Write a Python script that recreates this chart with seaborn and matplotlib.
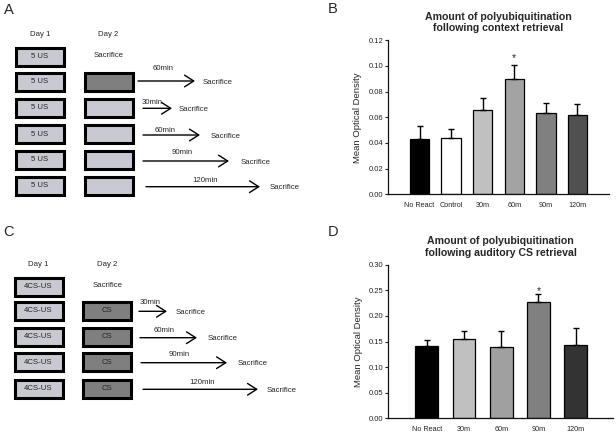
import numpy as np
import pandas as pd
import matplotlib
matplotlib.use("Agg")
import matplotlib.pyplot as plt
from matplotlib.patches import Rectangle
import seaborn as sns

# ------------------------------------------------------------------ data
b_categories = ["No React", "Control", "30m", "60m", "90m", "120m"]
b_means = [0.043, 0.044, 0.066, 0.090, 0.063, 0.062]
b_errors = [0.010, 0.007, 0.009, 0.011, 0.008, 0.008]
b_yticks = [0.00, 0.02, 0.04, 0.06, 0.08, 0.10, 0.12]
b_significant = ["60m"]
b_title = "Amount of polyubiquitination\nfollowing context retrieval"

d_categories = ["No React", "30m", "60m", "90m", "120m"]
d_means = [0.141, 0.155, 0.140, 0.228, 0.143]
d_errors = [0.012, 0.015, 0.031, 0.014, 0.034]
d_yticks = [0.00, 0.05, 0.10, 0.15, 0.20, 0.25, 0.30]
d_significant = ["90m"]
d_title = "Amount of polyubiquitination\nfollowing auditory CS retrieval"

y_label = "Mean Optical Density"

# schematic content
a_day1 = ["5 US", "5 US", "5 US", "5 US", "5 US", "5 US"]
a_day2 = ["sacrifice", "dark", "light", "light", "light", "light"]
a_intervals = [None, "60min", "30min", "60min", "90min", "120min"]

c_day1 = ["4CS-US", "4CS-US", "4CS-US", "4CS-US", "4CS-US"]
c_day2 = ["sacrifice", "CS", "CS", "CS", "CS"]
c_intervals = [None, "30min", "60min", "90min", "120min"]

day_headers = ["Day 1", "Day 2"]
end_label = "Sacrifice"

# ------------------------------------------------------------------ style
sns.set_style("ticks")
plt.rcParams["font.family"] = ["Liberation Sans", "DejaVu Sans"]

b_palette = ["#000000", "#ffffff", "#c0c0c0", "#a3a3a3", "#808080", "#505050"]
d_palette = ["#000000", "#c0c0c0", "#a0a0a0", "#808080", "#333333"]
LIGHT = "#c9cad1"
DARK = "#7f7f7f"

W, H = 616, 434
fig = plt.figure(figsize=(W / 100, H / 100), dpi=100)

# overlay axes in pixel coordinates for the schematic panels and letters
ov = fig.add_axes([0, 0, 1, 1])
ov.set_xlim(0, W)
ov.set_ylim(H, 0)
ov.axis("off")
ov.patch.set_alpha(0)

TXT = 5.6
BOX_W, BOX_H = 48, 18


def box(cx, cy, fill, label=None):
    ov.add_patch(Rectangle((cx - BOX_W / 2, cy - BOX_H / 2), BOX_W, BOX_H,
                           facecolor=fill, edgecolor="black", linewidth=2.2))
    if label:
        ov.text(cx, cy, label, ha="center", va="center", fontsize=TXT)


def arrow(x0, x1, y):
    ov.annotate("", xy=(x1, y), xytext=(x0, y),
                arrowprops=dict(arrowstyle="->,head_length=0.55,head_width=0.35",
                                lw=1.0, color="black", shrinkA=0, shrinkB=0,
                                mutation_scale=12))


def schematic(day1, day2, intervals, layout):
    hx1, hx2, hy = layout["headers"]
    ov.text(hx1, hy, day_headers[0], ha="center", va="center", fontsize=TXT)
    ov.text(hx2, hy, day_headers[1], ha="center", va="center", fontsize=TXT)
    for i, (l1, l2, iv) in enumerate(zip(day1, day2, intervals)):
        y = layout["rows"][i]
        box(layout["x1"], y, LIGHT, l1)
        if l2 == "sacrifice":
            ov.text(layout["x2"], y - 1, end_label, ha="center", va="center", fontsize=TXT)
        elif l2 == "dark":
            box(layout["x2"], y, DARK)
        elif l2 == "light":
            box(layout["x2"], y, LIGHT)
        else:
            box(layout["x2"], y, DARK, l2)
        if iv is not None:
            ax0, ax1, ay = layout["arrows"][i]
            arrow(ax0, ax1, ay)
            lx, ly = layout["labels"][i]
            ov.text(lx, ly, iv, ha="center", va="center", fontsize=TXT)
            ov.text(ax1 + layout["gap"][i], ay + 1, end_label, ha="left",
                    va="center", fontsize=TXT)


a_layout = dict(
    headers=(40, 108, 34),
    rows=[56.7, 81.7, 107.7, 134.3, 159.5, 185.7],
    x1=39.8, x2=108.7,
    arrows=[None, (138, 195, 81), (143, 172, 108.3), (143, 200, 135),
            (143, 229, 161), (146, 260, 186.7)],
    labels=[None, (163, 68), (152, 102), (165, 130), (182, 152), (205, 180)],
    gap=[None, 8, 7, 11, 12, 10],
)
c_layout = dict(
    headers=(38, 107, 264),
    rows=[286.7, 310.5, 336.5, 362.3, 389.0],
    x1=38.5, x2=107.2,
    arrows=[None, (139, 167, 311.3), (140, 197, 337.7), (141, 227, 362.7),
            (143, 258, 389.3)],
    labels=[None, (150, 302), (164, 330), (179, 354), (202, 382)],
    gap=[None, 9, 11, 11, 9],
)

schematic(a_day1, a_day2, a_intervals, a_layout)
schematic(c_day1, c_day2, c_intervals, c_layout)

for letter, (lx, ly) in zip("ABCD", [(8.7, 10), (333, 8.7), (8, 232), (333, 231.5)]):
    ov.text(lx, ly, letter, ha="center", va="center", fontsize=10.5)


# ------------------------------------------------------------------ bar charts
def bar_panel(rect, cats, means, errs, yticks, palette, title, sig, xlim, star_off,
              label_x):
    ax = fig.add_axes(rect)
    df = pd.DataFrame({"group": cats, "value": means})
    sns.barplot(data=df, x="group", y="value", hue="group", palette=palette,
                order=cats, hue_order=cats, width=0.615, edgecolor="black",
                linewidth=0.9, legend=False, ax=ax, errorbar=None)
    n = len(cats)
    ax.errorbar(np.arange(n), means, yerr=[np.zeros(n), errs], fmt="none",
                ecolor="black", elinewidth=1.0, capsize=1.9, capthick=1.0,
                zorder=1)
    for s in sig:
        i = cats.index(s)
        ax.annotate("*", xy=(i, means[i] + errs[i]), xytext=(0, star_off),
                    textcoords="offset points", ha="center", va="baseline",
                    fontsize=7.5)
    ax.set_xlim(*xlim)
    ax.set_ylim(yticks[0], yticks[-1])
    ax.set_yticks(yticks)
    ax.set_yticklabels([f"{t:.2f}" for t in yticks])
    ax.set_xlabel("")
    ax.set_ylabel(y_label, fontsize=6.8)
    ax.yaxis.set_label_coords(label_x, 0.5)
    ax.tick_params(axis="y", labelsize=5.5, length=2, width=0.8, pad=1.5,
                   direction="out", colors="#222222", labelcolor="#222222")
    ax.tick_params(axis="x", labelsize=5.2, length=0, pad=5.5, labelcolor="#222222")
    for side in ("top", "right"):
        ax.spines[side].set_visible(False)
    for side in ("left", "bottom"):
        ax.spines[side].set_linewidth(0.9)
        ax.spines[side].set_color("#111111")
    ax.set_title(title, fontsize=7.6, fontweight="bold", pad=6.5, linespacing=1.15)
    ax.patch.set_alpha(0)
    return ax


bar_panel([388 / W, 1 - 194.3 / H, 221 / W, 154 / H], b_categories, b_means,
          b_errors, b_yticks, b_palette, b_title, b_significant, (-1.0, 6.0),
          2.5, -0.118)
bar_panel([388 / W, 1 - 418.3 / H, 225 / W, 153.6 / H], d_categories, d_means,
          d_errors, d_yticks, d_palette, d_title, d_significant, (-1.04, 5.0),
          0.2, -0.111)

fig.savefig("out.png", dpi=100)
